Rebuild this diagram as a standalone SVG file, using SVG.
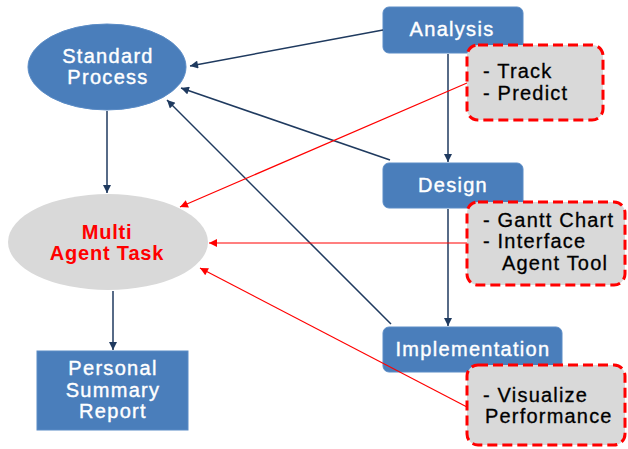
<svg xmlns="http://www.w3.org/2000/svg" width="628" height="449" viewBox="0 0 628 449">
<defs>
<marker id="ad" viewBox="0 0 10 10" refX="10" refY="5" markerWidth="9" markerHeight="8" markerUnits="userSpaceOnUse" orient="auto"><path d="M0,0 L10,5 L0,10 z" fill="#1F3A5F"/></marker>
<marker id="ar" viewBox="0 0 10 10" refX="10" refY="5" markerWidth="9" markerHeight="8" markerUnits="userSpaceOnUse" orient="auto"><path d="M0,0 L10,5 L0,10 z" fill="#FF0000"/></marker>
</defs>
<style>
.blue{fill:#4A7EBB;stroke:#5B8CC6;stroke-width:1}
.wt{font-family:"Liberation Sans",Arial,sans-serif;font-size:20px;fill:#FFFFFF;letter-spacing:1.3px;text-anchor:middle;stroke:#FFFFFF;stroke-width:0.4}
.note{fill:#D9D9D9;stroke:#FF0000;stroke-width:3;stroke-dasharray:10 5}
.bt{font-family:"Liberation Sans",Arial,sans-serif;font-size:20px;fill:#000000;letter-spacing:1.2px;stroke:#000000;stroke-width:0.3}
.rt{font-family:"Liberation Sans",Arial,sans-serif;font-size:20px;font-weight:bold;fill:#FF0000;letter-spacing:0.8px;text-anchor:middle}
.dk{stroke:#1F3A5F;stroke-width:1.5;fill:none;marker-end:url(#ad)}
.rd{stroke:#FF0000;stroke-width:1.2;fill:none;marker-end:url(#ar)}
</style>
<rect width="628" height="449" fill="#FFFFFF"/>
<g id="standard-process">
<ellipse class="blue" cx="107" cy="67" rx="79" ry="43"/>
<text class="wt" x="108" y="63">Standard</text>
<text class="wt" x="108" y="84">Process</text>
</g>
<g id="multi-agent-task">
<ellipse cx="108" cy="242" rx="100" ry="48" fill="#D9D9D9"/>
<text class="rt" x="107" y="239">Multi</text>
<text class="rt" x="107" y="260">Agent Task</text>
</g>
<g id="personal-summary-report">
<rect class="blue" x="37" y="351" width="151" height="79"/>
<text class="wt" x="113" y="375">Personal</text>
<text class="wt" x="113" y="397">Summary</text>
<text class="wt" x="113" y="418">Report</text>
</g>
<g id="analysis">
<rect class="blue" x="383" y="7" width="140" height="46" rx="6"/>
<text class="wt" x="452" y="36">Analysis</text>
</g>
<g id="design">
<rect class="blue" x="383" y="163" width="140" height="45" rx="6"/>
<text class="wt" x="453" y="192">Design</text>
</g>
<g id="implementation">
<rect class="blue" x="383" y="327" width="179" height="45" rx="6"/>
<text class="wt" x="473" y="356">Implementation</text>
</g>
<g id="connectors">
<line class="dk" x1="383" y1="30" x2="190" y2="66"/>
<line class="dk" x1="390" y1="160" x2="181" y2="88"/>
<line class="dk" x1="391" y1="324" x2="167" y2="100"/>
<line class="dk" x1="107" y1="111" x2="107" y2="193"/>
<line class="dk" x1="113" y1="291" x2="113" y2="350"/>
<line class="dk" x1="448" y1="54" x2="448" y2="162"/>
<line class="dk" x1="448" y1="209" x2="448" y2="326"/>
<line class="rd" x1="467" y1="83" x2="180" y2="207"/>
<line class="rd" x1="467" y1="243" x2="209" y2="243"/>
<line class="rd" x1="467" y1="407" x2="200" y2="268"/>
</g>
<g id="note-analysis">
<rect class="note" x="467" y="45" width="136" height="75" rx="11"/>
<text class="bt" x="483" y="78">- Track</text>
<text class="bt" x="483" y="100">- Predict</text>
</g>
<g id="note-design">
<rect class="note" x="467" y="202" width="158" height="83" rx="11"/>
<text class="bt" x="483" y="227">- Gantt Chart</text>
<text class="bt" x="483" y="248">- Interface</text>
<text class="bt" x="502" y="270">Agent Tool</text>
</g>
<g id="note-implementation">
<rect class="note" x="467" y="365" width="158" height="80" rx="11"/>
<text class="bt" x="483" y="402">- Visualize</text>
<text class="bt" x="485" y="423">Performance</text>
</g>
</svg>
